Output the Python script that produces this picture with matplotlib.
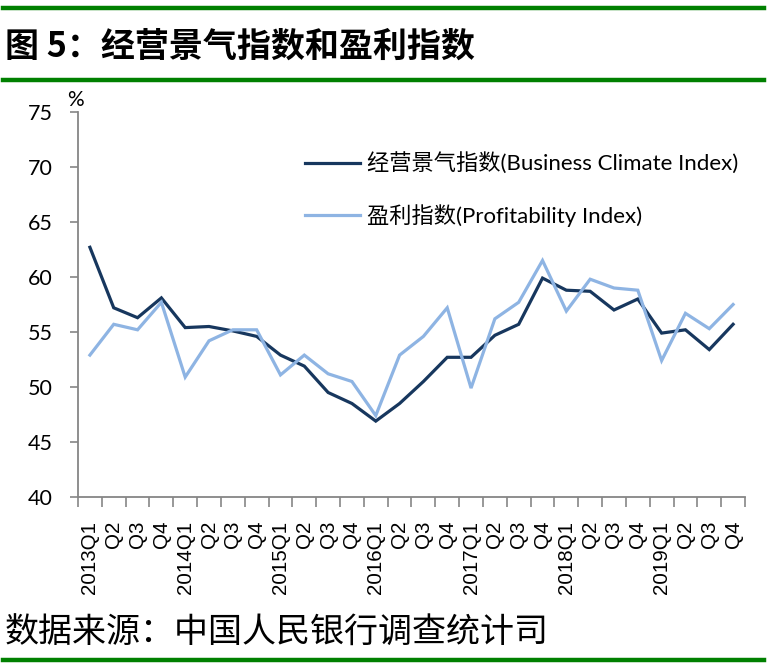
import matplotlib
matplotlib.use("Agg")
import matplotlib.pyplot as plt
from matplotlib.lines import Line2D

# quarters 2013Q1 .. 2019Q4
quarters = ["2013Q1", "Q2", "Q3", "Q4", "2014Q1", "Q2", "Q3", "Q4",
            "2015Q1", "Q2", "Q3", "Q4", "2016Q1", "Q2", "Q3", "Q4",
            "2017Q1", "Q2", "Q3", "Q4", "2018Q1", "Q2", "Q3", "Q4",
            "2019Q1", "Q2", "Q3", "Q4"]

business_climate = [62.7, 57.2, 56.3, 58.1, 55.4, 55.5, 55.1, 54.6,
                    52.9, 51.9, 49.5, 48.5, 46.9, 48.5, 50.5, 52.7,
                    52.7, 54.7, 55.7, 59.9, 58.8, 58.7, 57.0, 58.0,
                    54.9, 55.2, 53.4, 55.7]

profitability = [52.9, 55.7, 55.2, 57.7, 50.9, 54.2, 55.2, 55.2,
                 51.1, 52.9, 51.2, 50.5, 47.4, 52.9, 54.6, 57.2,
                 49.9, 56.2, 57.7, 61.5, 56.9, 59.8, 59.0, 58.8,
                 52.4, 56.7, 55.3, 57.5]

DARK = "#17375E"
LIGHT = "#8EB4E3"
GREEN = "#008000"
AXIS = "#868686"
MIXED = ["Lato", "Noto Sans CJK SC"]

fig = plt.figure(figsize=(7.67, 6.68), dpi=100)
ax = fig.add_axes([78 / 767, 1 - 497 / 668, 667 / 767, 385 / 668])

x = list(range(len(quarters)))
ax.plot(x, business_climate, color=DARK, lw=2.3, solid_joinstyle="miter",
        label="经营景气指数(Business Climate Index)")
ax.plot(x, profitability, color=LIGHT, lw=2.3, solid_joinstyle="miter",
        label="盈利指数(Profitability Index)")

ax.set_xlim(-0.5, len(quarters) - 0.5)
ax.set_ylim(40, 75)
ax.set_yticks(range(40, 76, 5))

# category labels at centres, tick marks at boundaries
ax.set_xticks(x)
ax.set_xticklabels(quarters, rotation=90, ha="right", va="center",
                   rotation_mode="anchor", family="Liberation Sans", fontsize=14.8)
ax.set_xticks([i - 0.5 for i in range(len(quarters) + 1)], minor=True)
ax.tick_params(axis="x", which="major", length=0, pad=17)
ax.tick_params(axis="x", which="minor", length=7, width=1.2, color=AXIS, direction="out")
ax.tick_params(axis="y", length=6, width=1.2, color=AXIS, direction="out", pad=12)

for lbl in ax.get_yticklabels():
    lbl.set_family("Lato")
    lbl.set_fontsize(15.5)

for side in ["top", "right"]:
    ax.spines[side].set_visible(False)
for side in ["left", "bottom"]:
    ax.spines[side].set_color(AXIS)
    ax.spines[side].set_linewidth(1.3)

ax.text(-0.004, 1.005, "%", transform=ax.transAxes, ha="center", va="bottom",
        fontsize=15, family="Lato")

leg = ax.legend(loc="upper left", bbox_to_anchor=(0.31, 0.945), frameon=False,
                handlelength=2.5, handletextpad=0.3, labelspacing=1.3,
                prop={"family": MIXED, "size": 16})

# title, source and green rules
fig.text(5 / 767, 1 - 46 / 668, "图 5：经营景气指数和盈利指数", ha="left", va="center",
         fontsize=24.5, fontweight="bold", family=["Noto Sans CJK SC", "DejaVu Sans"])
fig.text(5 / 767, 1 - 633 / 668, "数据来源：中国人民银行调查统计司", ha="left", va="center",
         fontsize=24.5, family=["Noto Sans CJK SC", "DejaVu Sans"])
for yy in [8, 80, 660]:
    fig.add_artist(Line2D([3 / 767, 764 / 767], [1 - yy / 668] * 2,
                          transform=fig.transFigure, color=GREEN, lw=3.2))

fig.savefig("out.png", dpi=100)
